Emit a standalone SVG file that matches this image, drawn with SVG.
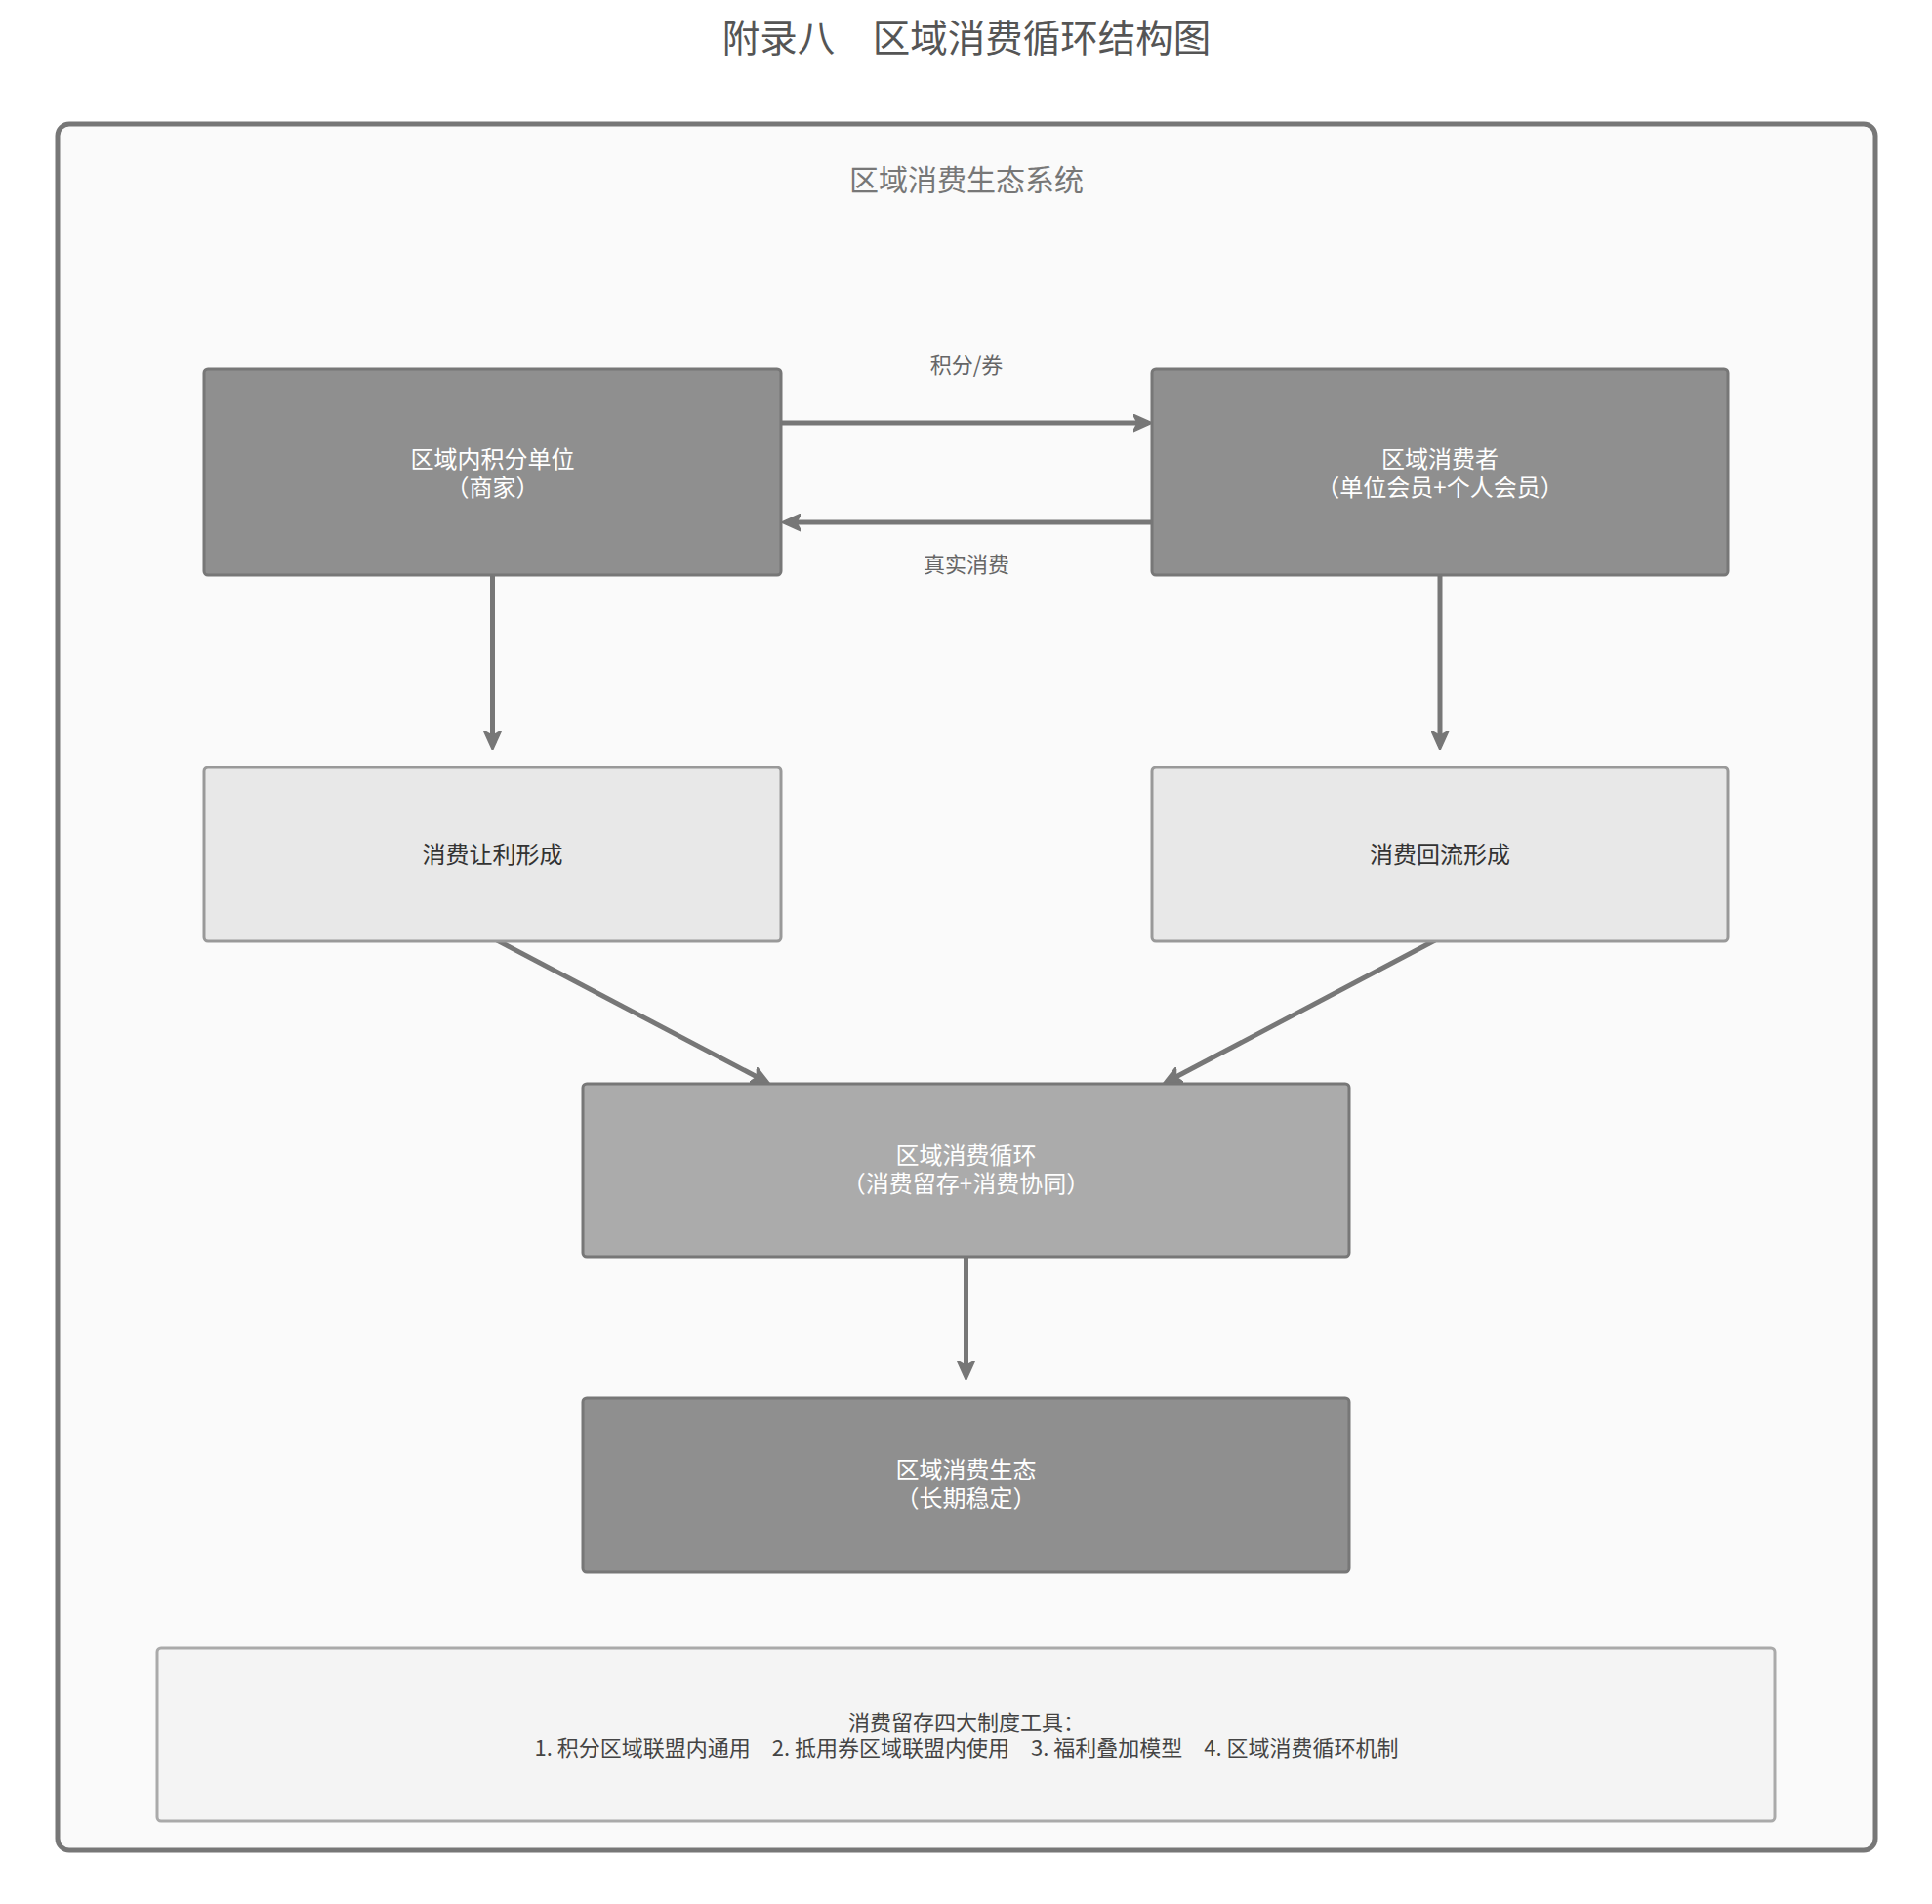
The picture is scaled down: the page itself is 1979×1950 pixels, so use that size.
<svg xmlns="http://www.w3.org/2000/svg" width="1979" height="1950" viewBox="0 0 1979 1950">
<defs>
<marker id="ah" viewBox="0 0 10 10" refX="8" refY="5" markerWidth="3.8" markerHeight="3.8" orient="auto" markerUnits="strokeWidth">
<path d="M0,0.5 L10,5 L0,9.5 L2.5,5 Z" fill="#777" stroke="#777" stroke-width="1" stroke-linejoin="round"/>
</marker>
<style>
text{font-family:"Noto Sans CJK SC","Noto Sans",sans-serif;text-anchor:middle}
.title{font-size:38.5px;fill:#555}
.sub{font-size:30px;fill:#777}
.dark{fill:#8f8f8f;stroke:#777;stroke-width:3}
.mid{fill:#ababab;stroke:#777;stroke-width:3}
.light{fill:#e8e8e8;stroke:#999;stroke-width:3}
.wt{font-size:24px;fill:#fff}
.bt{font-size:24px;fill:#333}
.el{font-size:22px;fill:#666}
.nt{font-size:22px;fill:#444}
.conn{stroke:#777;stroke-width:5;fill:none;marker-end:url(#ah)}
</style>
</defs>
<rect x="0" y="0" width="1979" height="1950" fill="#ffffff"/>
<text class="title" x="990" y="53">附录八　区域消费循环结构图</text>
<g id="container">
<rect x="59" y="127" width="1862" height="1768" rx="12" fill="#fafafa" stroke="#777" stroke-width="5"/>
<text class="sub" x="990" y="195">区域消费生态系统</text>
</g>
<g id="connectors">
<line class="conn" x1="801" y1="433" x2="1176" y2="433"/>
<line class="conn" x1="1179" y1="535" x2="805" y2="535"/>
<line class="conn" x1="504.5" y1="590" x2="504.5" y2="764"/>
<line class="conn" x1="1475" y1="590" x2="1475" y2="764"/>
<line class="conn" x1="509" y1="963" x2="785" y2="1108"/>
<line class="conn" x1="1470" y1="963" x2="1195" y2="1108"/>
<line class="conn" x1="989.5" y1="1288" x2="989.5" y2="1409"/>
<text class="el" x="990" y="382">积分/券</text>
<text class="el" x="990" y="586">真实消费</text>
</g>
<g id="node-merchant">
<rect class="dark" x="209" y="378" width="591" height="211" rx="4"/>
<text class="wt" x="504.5" y="479">区域内积分单位</text>
<text class="wt" x="504.5" y="508">（商家）</text>
</g>
<g id="node-consumer">
<rect class="dark" x="1180" y="378" width="590" height="211" rx="4"/>
<text class="wt" x="1475" y="479">区域消费者</text>
<text class="wt" x="1475" y="508">（单位会员+个人会员）</text>
</g>
<g id="node-discount">
<rect class="light" x="209" y="786" width="591" height="178" rx="4"/>
<text class="bt" x="504.5" y="884">消费让利形成</text>
</g>
<g id="node-backflow">
<rect class="light" x="1180" y="786" width="590" height="178" rx="4"/>
<text class="bt" x="1475" y="884">消费回流形成</text>
</g>
<g id="node-cycle">
<rect class="mid" x="597" y="1110" width="785" height="177" rx="4"/>
<text class="wt" x="989.5" y="1192">区域消费循环</text>
<text class="wt" x="989.5" y="1221">（消费留存+消费协同）</text>
</g>
<g id="node-ecology">
<rect class="dark" x="597" y="1432" width="785" height="178" rx="4"/>
<text class="wt" x="989.5" y="1514">区域消费生态</text>
<text class="wt" x="989.5" y="1543">（长期稳定）</text>
</g>
<g id="note">
<rect x="161" y="1688" width="1657" height="177" rx="4" fill="#f4f4f4" stroke="#aaa" stroke-width="3"/>
<text class="nt" x="990" y="1772">消费留存四大制度工具：</text>
<text class="nt" x="990" y="1798">1. 积分区域联盟内通用　2. 抵用券区域联盟内使用　3. 福利叠加模型　4. 区域消费循环机制</text>
</g>
</svg>
